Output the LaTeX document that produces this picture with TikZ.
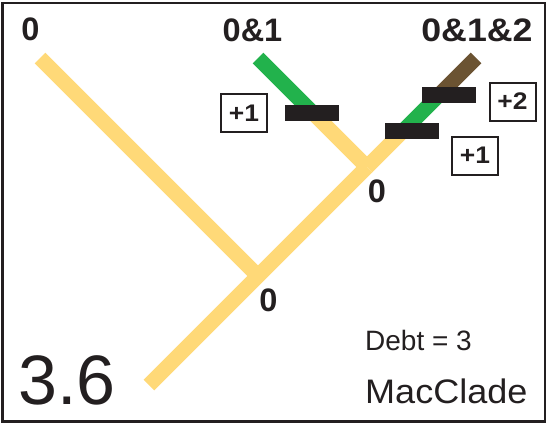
\documentclass[tikz,border=0pt]{standalone}
\usepackage{fontspec}
\setmainfont{Liberation Sans}
\newfontfamily\stretchsans{Liberation Sans}[FakeStretch=1.1]
\newfontfamily\macsans{Liberation Sans}[FakeStretch=1.06]
\definecolor{treeyellow}{RGB}{255,217,120}
\definecolor{treegreen}{RGB}{34,178,76}
\definecolor{treebrown}{RGB}{107,83,50}
\definecolor{ink}{RGB}{35,31,32}
\begin{document}
\begin{tikzpicture}[x=1pt,y=-1pt,
 branch/.style={line width=15pt, line cap=butt},
 bar/.style={fill=ink, draw=none, minimum width=54pt, minimum height=16pt, inner sep=0pt},
 stepcount/.style={draw=ink, line width=2pt, minimum width=46pt, minimum height=38pt, inner sep=0pt, font=\stretchsans\fontsize{24}{24}\selectfont\bfseries, text=ink},
 statelabel/.style={font=\fontsize{32.5}{32.5}\selectfont\bfseries, text=ink, inner sep=0pt},
 plainlabel/.style={anchor=base west, inner sep=0pt, text=ink}]
\useasboundingbox (0,0) rectangle (548,424);
\draw[ink, line width=2.5pt] (2.5,3) rectangle (545,421.5);
\coordinate (root) at (149,385);
\coordinate (ja) at (258,276);
\coordinate (jb) at (367,167);
\coordinate (l0) at (40,58);
\coordinate (l1) at (258,58);
\coordinate (l2) at (476,58);
\coordinate (c1) at (313,113);
\coordinate (c2) at (404,130);
\coordinate (c3) at (440,94);
\draw[branch, treeyellow] (root) -- (jb);
\draw[branch, treeyellow] (l0) -- (ja);
\draw[branch, treeyellow] (c1) -- (jb);
\draw[branch, treegreen] (l1) -- (c1);
\draw[branch, treeyellow] (jb) -- (c2);
\draw[branch, treegreen] (c2) -- (c3);
\draw[branch, treebrown] (c3) -- (l2);
\node[bar] (bar1) at (312,113) {};
\node[bar] (bar2) at (412,130.5) {};
\node[bar] (bar3) at (449,94.5) {};
\node[stepcount] (s1) at (244,113) {+1};
\node[stepcount] (s2) at (512.5,101.5) {+2};
\node[stepcount] (s3) at (475,155.5) {+1};
\node[statelabel] (t0) at (30.5,29) {0};
\node[statelabel] (t1) at (252.5,30) {0\&1};
\node[statelabel, font=\stretchsans\fontsize{32.5}{32.5}\selectfont\bfseries] (t2) at (477,30) {0\&1\&2};
\node[statelabel] (na) at (268.5,300.5) {0};
\node[statelabel] (nb) at (377,191) {0};
\node[plainlabel, font=\fontsize{28}{28}\selectfont] (debt) at (365,350) {Debt = 3};
\node[plainlabel, font=\macsans\fontsize{34}{34}\selectfont] (mc) at (365,403) {MacClade};
\node[plainlabel, font=\fontsize{70}{70}\selectfont] (score) at (18,404) {3.6};
\end{tikzpicture}
\end{document}
